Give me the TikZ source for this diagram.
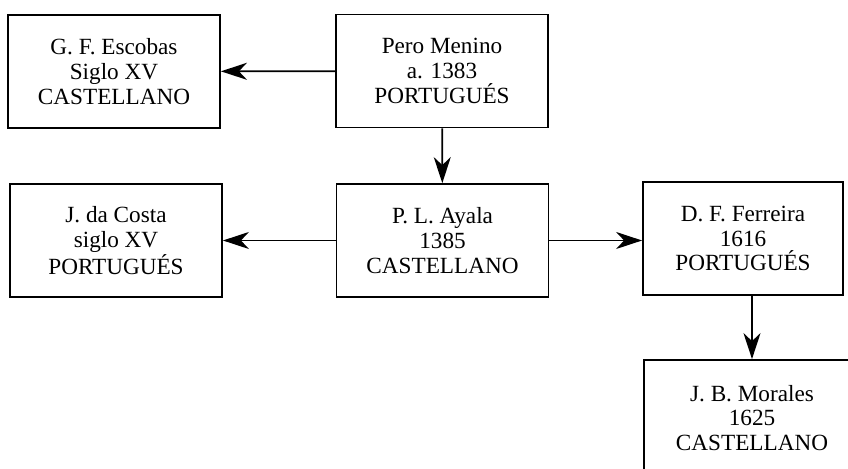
\documentclass[tikz,border=0pt]{standalone}
\usepackage{fontspec}
\setmainfont{Liberation Serif}
\usepackage{tikz}
\usetikzlibrary{arrows.meta}

\tikzset{
  caja/.style={draw,line width=0.9pt,inner sep=0pt,align=center,
    minimum width=106pt,minimum height=56.5pt,
    font=\fontsize{11.6}{12.3}\selectfont},
  flecha/.style={line width=0.9pt,-{Stealth[length=13pt,width=8.5pt,inset=4pt]}}
}

\begin{document}
\begin{tikzpicture}[x=0.5pt,y=-0.5pt]
\useasboundingbox (0,0) rectangle (848,469);
\clip (0,0) rectangle (848,469);

% Row 1 - Pero Menino and Escobas
\node[caja] (escobas) at (114,71.5) {G. F. Escobas\\Siglo XV\\CASTELLANO};
\node[caja] (menino) at (442,71) {Pero Menino\\a. 1383\\PORTUGUÉS};

% Row 2 - Ayala, da Costa and Ferreira
\node[caja] (costa) at (116,240.5) {J. da Costa\\siglo XV\\PORTUGUÉS};
\node[caja] (ayala) at (442.5,240.5) {P. L. Ayala\\1385\\CASTELLANO};
\node[caja,minimum width=100pt] (ferreira) at (743,238.5) {D. F. Ferreira\\1616\\PORTUGUÉS};

% Row 3 - Morales (cut off at the page edge)
\node[caja,minimum width=108pt,minimum height=58pt] (morales) at (752,418) {J. B. Morales\\1625\\CASTELLANO};

% Arrows
\draw[flecha] (menino) -- (escobas);
\draw[flecha] (menino) -- (ayala);
\draw[flecha] (ayala.west) -- (costa.east |- ayala.west);
\draw[flecha] (ayala.east) -- (ferreira.west |- ayala.east);
\draw[flecha] (ferreira.south -| morales.north) -- (morales.north);

\end{tikzpicture}
\end{document}
